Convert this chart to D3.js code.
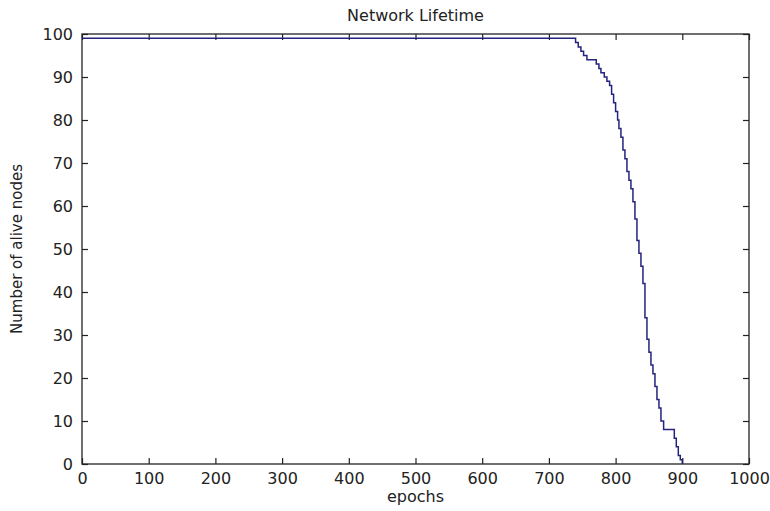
<!DOCTYPE html>
<html>
<head>
<meta charset="utf-8">
<script src="https://cdn.jsdelivr.net/npm/d3@7"></script>
<style>
  html, body { margin: 0; padding: 0; background: #fff; }
  svg { display: block; }
  text { font-family: "DejaVu Sans", sans-serif; fill: #222; }
</style>
</head>
<body>
<svg id="chart" width="770" height="511"></svg>
<script>
// Alive nodes per epoch (step changes only)
const epochs = [0, 740, 744, 748, 752, 757, 771, 775, 778, 783, 787, 791, 794, 797, 800, 803, 805, 808, 811, 814, 817, 820, 823, 826, 829, 832, 835, 838, 841, 844, 847, 850, 853, 856, 859, 862, 865, 868, 872, 888, 891, 894, 897, 900];
const alive  = [99, 98, 97, 96, 95, 94, 93, 92, 91, 90, 89, 88, 86, 84, 82, 80, 78, 76, 73, 71, 68, 66, 64, 61, 57, 52, 49, 46, 42, 34, 29, 26, 23, 21, 18, 15, 13, 10, 8, 6, 4, 2, 1, 0];
const xTicks = [0, 100, 200, 300, 400, 500, 600, 700, 800, 900, 1000];
const yTicks = [0, 10, 20, 30, 40, 50, 60, 70, 80, 90, 100];

const svg = d3.select("#chart");
const margin = { left: 82, top: 34, right: 21, bottom: 47 };
const W = 770 - margin.left - margin.right;
const H = 511 - margin.top - margin.bottom;

const x = d3.scaleLinear().domain([0, 1000]).range([0, W]);
const y = d3.scaleLinear().domain([0, 100]).range([H, 0]);

const g = svg.append("g").attr("transform", `translate(${margin.left},${margin.top})`);

// inward ticks on all four sides
const tl = 6;
const fmt = d3.format("d");
const axBottom = g.append("g").attr("transform", `translate(0,${H})`)
  .call(d3.axisBottom(x).tickValues(xTicks).tickFormat(fmt).tickSize(-tl).tickPadding(tl + 3));
const axLeft = g.append("g")
  .call(d3.axisLeft(y).tickValues(yTicks).tickFormat(fmt).tickSize(-tl).tickPadding(tl + 3));
const axTop = g.append("g")
  .call(d3.axisTop(x).tickValues(xTicks).tickSize(-tl).tickFormat(""));
const axRight = g.append("g").attr("transform", `translate(${W},0)`)
  .call(d3.axisRight(y).tickValues(yTicks).tickSize(-tl).tickFormat(""));

[axBottom, axLeft, axTop, axRight].forEach(a => {
  a.select(".domain").remove();
  a.selectAll("line").attr("stroke", "#222").attr("stroke-width", 1.2);
  a.selectAll("text").style("font-family", '"DejaVu Sans", sans-serif')
    .style("font-size", "16px").attr("fill", "#2a2a2a");
});

// frame
g.append("rect").attr("x", 0).attr("y", 0).attr("width", W).attr("height", H)
  .attr("fill", "none").attr("stroke", "#222").attr("stroke-width", 1.3);

// alive-node curve
const data = epochs.map((e, i) => ({ e, a: alive[i] }));
const line = d3.line().x(d => x(d.e)).y(d => y(d.a)).curve(d3.curveStepAfter);
g.append("path").datum(data).attr("d", line)
  .attr("fill", "none").attr("stroke", "#24247e").attr("stroke-width", 1.5);

// labels
svg.append("text").attr("x", margin.left + W / 2).attr("y", 21)
  .attr("text-anchor", "middle").style("font-size", "16px").text("Network Lifetime");
svg.append("text").attr("x", margin.left + W / 2).attr("y", 502)
  .attr("text-anchor", "middle").style("font-size", "16px").text("epochs");
svg.append("text")
  .attr("transform", `translate(22,${margin.top + H / 2}) rotate(-90)`)
  .attr("text-anchor", "middle").style("font-size", "15px").text("Number of alive nodes");
</script>
</body>
</html>
